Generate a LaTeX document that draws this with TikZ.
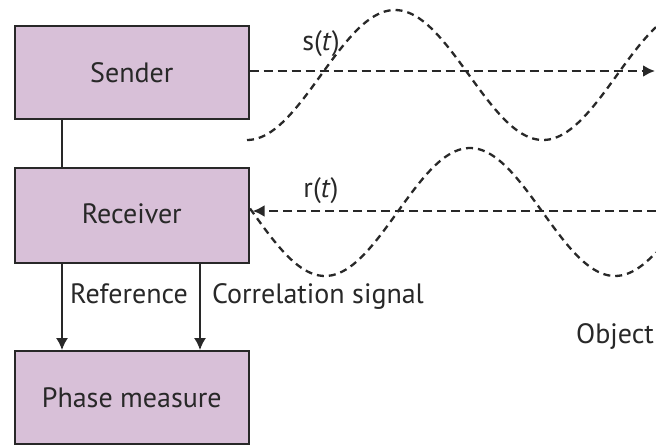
\documentclass[tikz,border=0pt]{standalone}
\usepackage{fontspec}
\setmainfont{PT Sans}
\usetikzlibrary{arrows.meta}
\definecolor{boxfill}{RGB}{216,192,216}
\definecolor{ink}{RGB}{40,40,40}
\begin{document}
\begin{tikzpicture}[x=1pt,y=-1pt,
  block/.style={draw=ink, line width=1.6pt, fill=boxfill, minimum width=234pt, minimum height=93pt, inner sep=0pt, anchor=north west, text=ink, font=\fontsize{28}{32}\selectfont},
  lbl/.style={text=ink, font=\fontsize{28}{32}\selectfont, inner sep=0pt, anchor=base},
  sig/.style={draw=ink, line width=2.4pt, dash pattern=on 9pt off 5pt},
  wave/.style={draw=ink, line width=2.3pt, dash pattern=on 7pt off 5pt},
  flow/.style={draw=ink, line width=1.5pt},
  tipa/.style={-{Latex[length=12pt,width=12pt]}}
]
\useasboundingbox (0,0) rectangle (656,445);
\fill[white] (0,0) rectangle (656,445);

% boxes
\node[block] (sender) at (14,25) {Sender};
\node[block, minimum height=95pt] (receiver) at (14,167) {\raisebox{3pt}{Receiver}};
\node[block] (phase) at (14,350) {Phase measure};

% helper coordinates
\coordinate (ax1) at (62,0);
\coordinate (ax2) at (200,0);
\coordinate (objout) at (655,71);
\coordinate (objin) at (656,211);

% solid connectors
\draw[flow] (sender.south -| ax1) -- (receiver.north -| ax1);
\draw[flow, tipa] (receiver.south -| ax1) -- (phase.north -| ax1);
\draw[flow, tipa] (receiver.south -| ax2) -- (phase.north -| ax2);

% waves
\draw[wave] plot[domain=0:497.4, samples=120, smooth] ({247+\x*0.82222},{75+65*cos(\x)});
\draw[wave] plot[domain=-93.1:410.9, samples=120, smooth] ({325+\x*0.80556},{212+64*cos(\x)});

% dashed signal arrows
\draw[sig, tipa] (sender.east |- objout) -- (objout);
\draw[sig, tipa, shorten >=3pt] (objin) -- (receiver.east |- objin);

% labels
\node[lbl] (slbl) at (321,50) {s(\textit{t})};
\node[lbl] (rlbl) at (321,197) {r(\textit{t})};
\node[lbl] (reflbl) at (129,303) {Reference};
\node[lbl] (corlbl) at (318,303) {Correlation signal};
\node[lbl] (objlbl) at (615,343) {Object};
\end{tikzpicture}
\end{document}
